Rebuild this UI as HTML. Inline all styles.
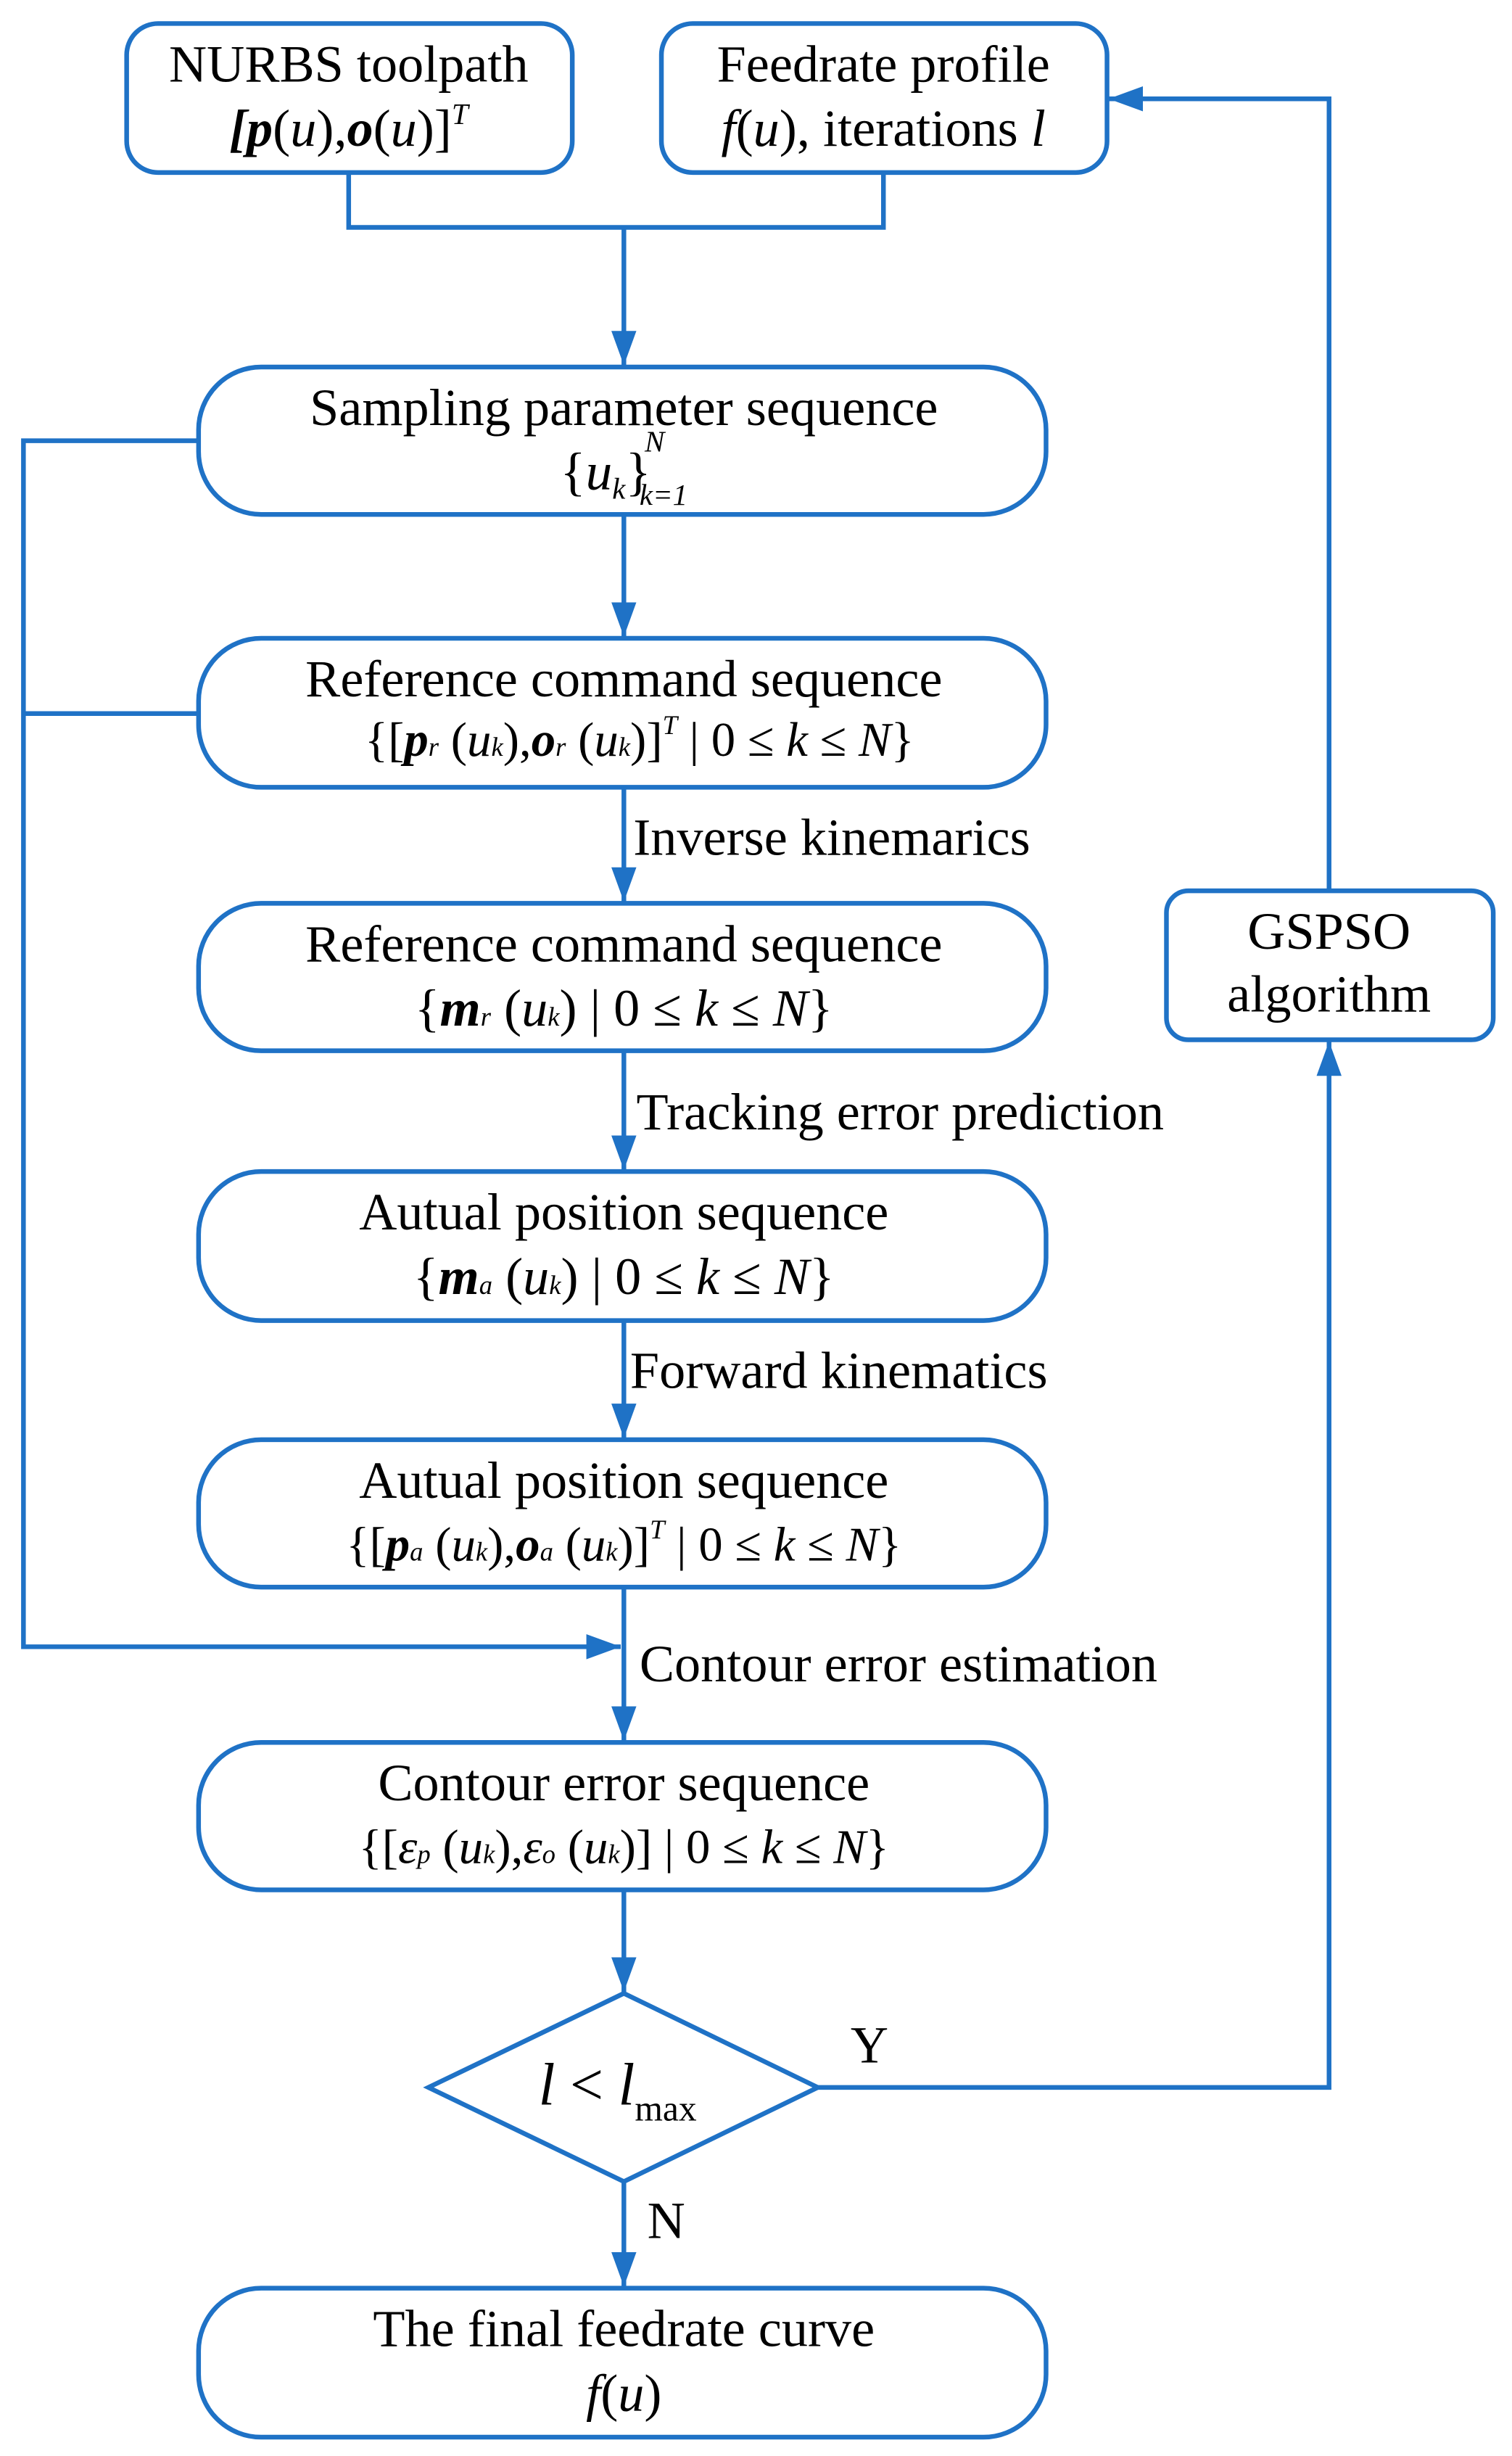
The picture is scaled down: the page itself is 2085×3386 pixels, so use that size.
<!DOCTYPE html>
<html><head><meta charset="utf-8"><style>
html,body{margin:0;padding:0;background:#fff;}
svg{display:block;}
text{font-family:"Liberation Serif",serif;fill:#000;}
</style></head><body>
<svg width="2085" height="3386" viewBox="0 0 967 1566" preserveAspectRatio="none" xmlns="http://www.w3.org/2000/svg">
<defs>
<marker id="a" viewBox="0 0 22 16" refX="22" refY="8" markerWidth="22" markerHeight="16" markerUnits="userSpaceOnUse" orient="auto">
<path d="M0,0 L22,8 L0,16 Z" fill="#1f72c6"/></marker>
</defs>
<g fill="none" stroke="#1f72c6" stroke-width="3">
<rect x="81" y="15" width="285" height="95" rx="20"/>
<rect x="423" y="15" width="285" height="95" rx="20"/>
<rect x="127" y="234" width="542" height="94" rx="40"/>
<rect x="127" y="407" width="542" height="95" rx="40"/>
<rect x="127" y="576" width="542" height="94" rx="40"/>
<rect x="127" y="747" width="542" height="95" rx="40"/>
<rect x="127" y="918" width="542" height="94" rx="40"/>
<rect x="127" y="1111" width="542" height="94" rx="40"/>
<rect x="127" y="1459" width="542" height="95" rx="40"/>
<rect x="746" y="568" width="209" height="95" rx="14"/>
<path d="M399,1271 L523,1331 L399,1391 L274,1331 Z"/>
<path d="M223,110 V145 H565 V110"/>
<path d="M399,145 V233" marker-end="url(#a)"/>
<path d="M399,328 V406" marker-end="url(#a)"/>
<path d="M399,502 V575" marker-end="url(#a)"/>
<path d="M399,670 V746" marker-end="url(#a)"/>
<path d="M399,842 V917" marker-end="url(#a)"/>
<path d="M399,1012 V1110" marker-end="url(#a)"/>
<path d="M399,1205 V1270" marker-end="url(#a)"/>
<path d="M399,1391 V1458" marker-end="url(#a)"/>
<path d="M127,281 H15 V1050 H397" marker-end="url(#a)"/>
<path d="M127,455 H15"/>
<path d="M523,1331 H850 V664" marker-end="url(#a)"/>
<path d="M850,568 V63 H709" marker-end="url(#a)"/>
</g>
<g font-size="33.5" text-anchor="middle">
<text x="223" y="52">NURBS toolpath</text>
<text x="223" y="93"><tspan font-weight="bold" font-style="italic">[p</tspan>(<tspan font-style="italic">u</tspan>),<tspan font-weight="bold" font-style="italic">o</tspan>(<tspan font-style="italic">u</tspan>)]<tspan font-size="19" dy="-14" font-style="italic">T</tspan></text>
<text x="565" y="52">Feedrate profile</text>
<text x="565" y="93"><tspan font-style="italic">f</tspan>(<tspan font-style="italic">u</tspan>), iterations <tspan font-style="italic">l</tspan></text>
<text x="399" y="271">Sampling parameter sequence</text>
<text x="399" y="312" font-size="34">{<tspan font-style="italic">u</tspan><tspan font-size="19" font-style="italic" dy="6">k</tspan><tspan dy="-6">}</tspan><tspan font-size="19" font-style="italic" dx="-4" dy="-24">N</tspan><tspan font-size="19" font-style="italic" dx="-16" dy="34">k=1</tspan></text>
<text x="399" y="444">Reference command sequence</text>
<text x="409" y="482" font-size="31">{[<tspan font-weight="bold" font-style="italic">p</tspan><tspan font-size="17" font-style="italic">r</tspan> (<tspan font-style="italic">u</tspan><tspan font-size="17" font-style="italic">k</tspan>),<tspan font-weight="bold" font-style="italic">o</tspan><tspan font-size="17" font-style="italic">r</tspan> (<tspan font-style="italic">u</tspan><tspan font-size="17" font-style="italic">k</tspan>)]<tspan font-size="17" font-style="italic" dy="-14">T</tspan><tspan dy="14"> | 0 ≤ </tspan><tspan font-style="italic">k</tspan> ≤ <tspan font-style="italic">N</tspan>}</text>
<text x="399" y="613">Reference command sequence</text>
<text x="399" y="654">{<tspan font-weight="bold" font-style="italic">m</tspan><tspan font-size="17" font-style="italic">r</tspan> (<tspan font-style="italic">u</tspan><tspan font-size="17" font-style="italic">k</tspan>) | 0 ≤ <tspan font-style="italic">k</tspan> ≤ <tspan font-style="italic">N</tspan>}</text>
<text x="399" y="784">Autual position sequence</text>
<text x="399" y="825">{<tspan font-weight="bold" font-style="italic">m</tspan><tspan font-size="17" font-style="italic">a</tspan> (<tspan font-style="italic">u</tspan><tspan font-size="17" font-style="italic">k</tspan>) | 0 ≤ <tspan font-style="italic">k</tspan> ≤ <tspan font-style="italic">N</tspan>}</text>
<text x="399" y="955">Autual position sequence</text>
<text x="399" y="995" font-size="31">{[<tspan font-weight="bold" font-style="italic">p</tspan><tspan font-size="17" font-style="italic">a</tspan> (<tspan font-style="italic">u</tspan><tspan font-size="17" font-style="italic">k</tspan>),<tspan font-weight="bold" font-style="italic">o</tspan><tspan font-size="17" font-style="italic">a</tspan> (<tspan font-style="italic">u</tspan><tspan font-size="17" font-style="italic">k</tspan>)]<tspan font-size="17" font-style="italic" dy="-14">T</tspan><tspan dy="14"> | 0 ≤ </tspan><tspan font-style="italic">k</tspan> ≤ <tspan font-style="italic">N</tspan>}</text>
<text x="399" y="1148">Contour error sequence</text>
<text x="399" y="1188" font-size="31">{[<tspan font-style="italic">ε</tspan><tspan font-size="17" font-style="italic">p</tspan> (<tspan font-style="italic">u</tspan><tspan font-size="17" font-style="italic">k</tspan>),<tspan font-style="italic">ε</tspan><tspan font-size="17" font-style="italic">o</tspan> (<tspan font-style="italic">u</tspan><tspan font-size="17" font-style="italic">k</tspan>)] | 0 ≤ <tspan font-style="italic">k</tspan> ≤ <tspan font-style="italic">N</tspan>}</text>
<text x="399" y="1496">The final feedrate curve</text>
<text x="399" y="1537"><tspan font-style="italic">f</tspan>(<tspan font-style="italic">u</tspan>)</text>
<text x="850" y="605">GSPSO</text>
<text x="850" y="645">algorithm</text>
<text x="395" y="1342" font-size="38"><tspan font-style="italic">l</tspan> &lt; <tspan font-style="italic">l</tspan><tspan font-size="23" dy="10">max</tspan></text>
</g>
<g font-size="33.5">
<text x="405" y="545">Inverse kinemarics</text>
<text x="407" y="720">Tracking error prediction</text>
<text x="403" y="885">Forward kinematics</text>
<text x="409" y="1072">Contour error estimation</text>
<text x="544" y="1315">Y</text>
<text x="414" y="1427">N</text>
</g>
</svg>
</body></html>
